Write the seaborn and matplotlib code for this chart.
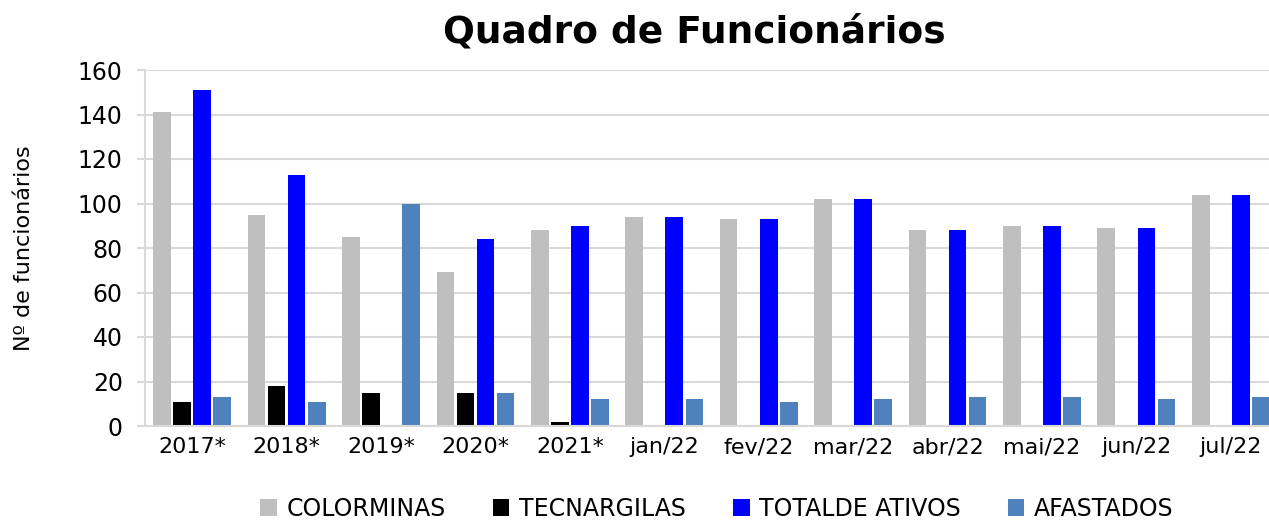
import matplotlib
matplotlib.use("Agg")
import matplotlib.pyplot as plt
import seaborn as sns
import pandas as pd
import numpy as np
from matplotlib.patches import Patch

categories = ["2017*", "2018*", "2019*", "2020*", "2021*", "jan/22", "fev/22",
              "mar/22", "abr/22", "mai/22", "jun/22", "jul/22"]
colorminas = [141, 95, 85, 69, 88, 94, 93, 102, 88, 90, 89, 104]
tecnargilas = [11, 18, 15, 15, 2, 0, 0, 0, 0, 0, 0, 0]
total_ativos = [151, 113, 0, 84, 90, 94, 93, 102, 88, 90, 89, 104]
afastados = [13, 11, 100, 15, 12, 12, 11, 12, 13, 13, 12, 13]

series_names = ["COLORMINAS", "TECNARGILAS", "TOTALDE ATIVOS", "AFASTADOS"]
series_values = [colorminas, tecnargilas, total_ativos, afastados]
colors = ["#BFBFBF", "#000000", "#0000FF", "#4F81BD"]

rows = []
for name, vals in zip(series_names, series_values):
    for c, v in zip(categories, vals):
        rows.append({"cat": c, "serie": name, "valor": v})
df = pd.DataFrame(rows)

sns.set_theme(style="white")
plt.rcParams["font.family"] = ["DejaVu Sans"]
plt.rcParams["text.color"] = "black"
plt.rcParams["axes.labelcolor"] = "black"
plt.rcParams["xtick.color"] = "black"
plt.rcParams["ytick.color"] = "black"

fig = plt.figure(figsize=(12.69, 5.21), dpi=100)
ax = fig.add_axes([145 / 1269, (521 - 426) / 521, (1278 - 145) / 1269, (426 - 70) / 521])

sns.barplot(data=df, x="cat", y="valor", hue="serie", order=categories,
            hue_order=series_names, palette=colors, width=0.85, gap=0.12,
            saturation=1, ax=ax, legend=False, linewidth=0)

ax.set_ylim(0, 160)
ax.set_xlim(-0.5, len(categories) - 0.5)
ax.set_yticks(np.arange(0, 161, 20))
ax.yaxis.grid(True, color="#d9d9d9", linewidth=1.5)
ax.set_axisbelow(True)
for s in ["top", "right"]:
    ax.spines[s].set_visible(False)
for s in ["left", "bottom"]:
    ax.spines[s].set_color("#d9d9d9")
    ax.spines[s].set_linewidth(1.5)

ax.set_xticks(np.arange(-0.5, len(categories), 1.0), minor=True)
ax.tick_params(axis="x", which="major", length=0, labelsize=16, pad=8, labelcolor="black")
ax.tick_params(axis="x", which="minor", length=6, width=1.5, color="#d9d9d9", direction="out")
ax.tick_params(axis="y", which="major", length=6, width=1.5, color="#d9d9d9",
               direction="out", labelsize=17, pad=10, left=True, labelcolor="black")
ax.set_xlabel("")
ax.set_ylabel("Nº de funcionários", fontsize=16, color="black")
ax.yaxis.set_label_coords(-0.098, 0.5)

fig.text(694 / 1269, (521 - 32) / 521, "Quadro de Funcionários", fontsize=27,
         fontweight="bold", ha="center", va="center", color="black")

handles = [Patch(facecolor=c, edgecolor="none") for c in colors]
fig.legend(handles, series_names, loc="center", bbox_to_anchor=(717 / 1269, 12 / 521),
           ncol=4, frameon=False, fontsize=17, handlelength=0.7, handleheight=0.7,
           handletextpad=0.4, columnspacing=2.0, labelcolor="black")

fig.savefig("out.png", dpi=100)
